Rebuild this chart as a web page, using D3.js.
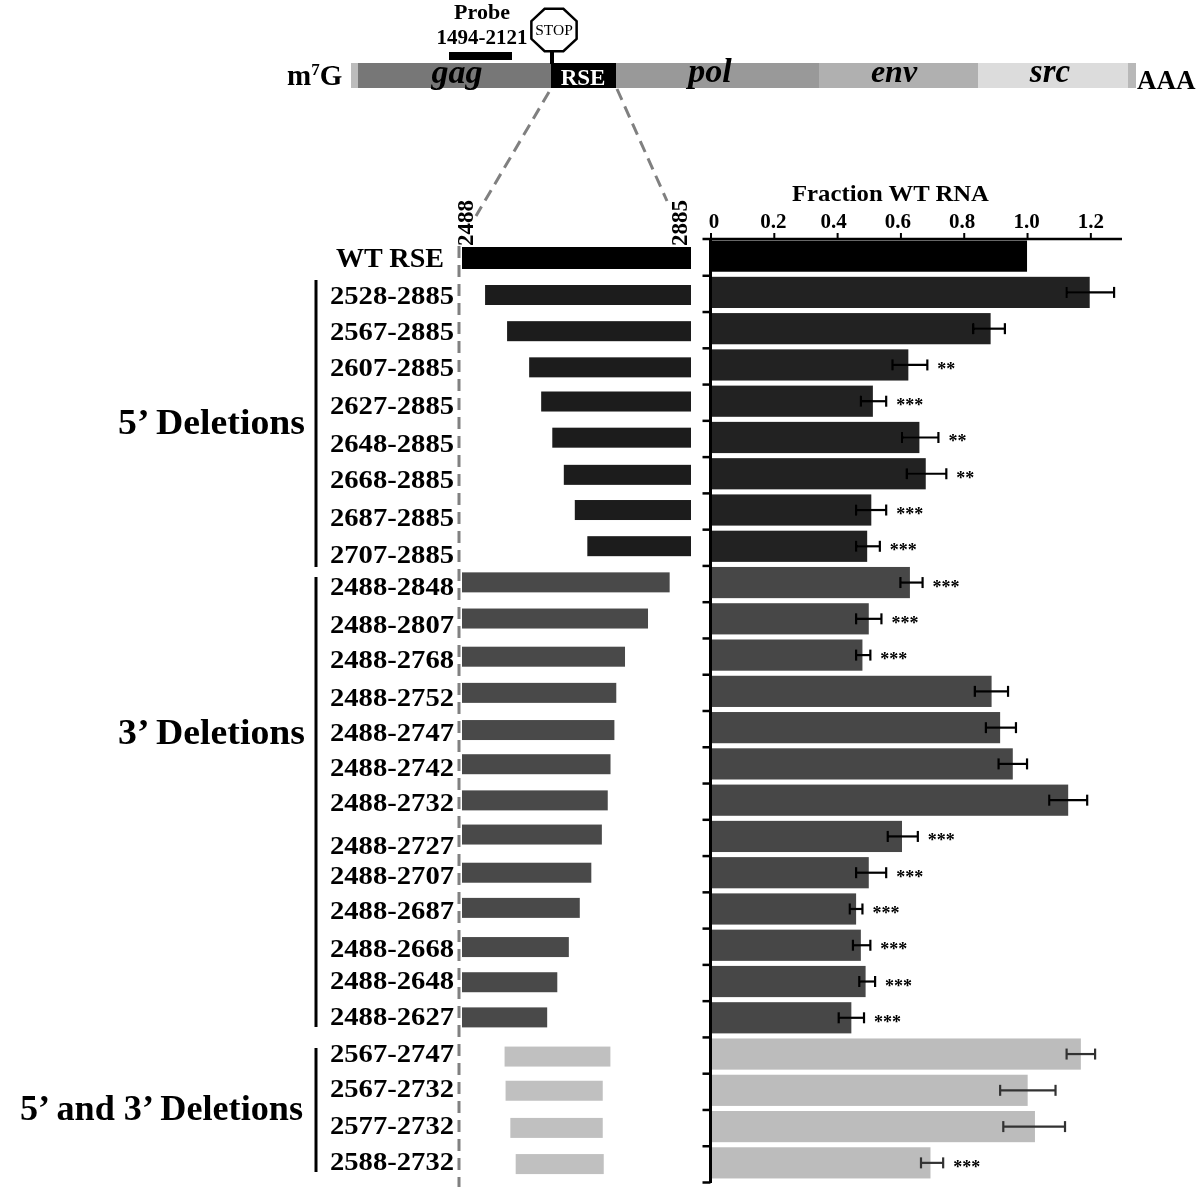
<!DOCTYPE html>
<html><head><meta charset="utf-8">
<script src="https://cdn.jsdelivr.net/npm/d3@7"></script>
<style>
html,body{margin:0;padding:0;background:#fff}
svg{display:block}
text{font-family:"Liberation Serif",serif;font-weight:bold;fill:#000}
</style></head><body>
<svg id="c" width="1200" height="1187"></svg>
<script>
// ---- data ----
const constructs=["WT RSE","2528-2885","2567-2885","2607-2885","2627-2885","2648-2885","2668-2885","2687-2885","2707-2885",
"2488-2848","2488-2807","2488-2768","2488-2752","2488-2747","2488-2742","2488-2732","2488-2727","2488-2707","2488-2687","2488-2668","2488-2648","2488-2627",
"2567-2747","2567-2732","2577-2732","2588-2732"];
const groups=["wt","d5","d5","d5","d5","d5","d5","d5","d5",
"d3","d3","d3","d3","d3","d3","d3","d3","d3","d3","d3","d3","d3",
"dd","dd","dd","dd"];
const fraction=[1,1.198,0.885,0.625,0.513,0.66,0.68,0.508,0.495,0.63,0.5,0.48,0.888,0.915,0.955,1.13,0.605,0.5,0.46,0.475,0.49,0.445,1.17,1.002,1.025,0.695];
const errLow=[null,1.125,0.83,0.575,0.475,0.605,0.62,0.46,0.46,0.6,0.46,0.46,0.835,0.87,0.91,1.07,0.56,0.46,0.44,0.45,0.47,0.405,1.125,0.915,0.925,0.665];
const errHigh=[null,1.275,0.93,0.685,0.555,0.72,0.745,0.555,0.535,0.67,0.54,0.505,0.94,0.965,1.0,1.19,0.655,0.555,0.48,0.505,0.52,0.485,1.215,1.09,1.12,0.735];
const stars=["","","","**","***","**","**","***","***","***","***","***","","","","","***","***","***","***","***","***","","","","***"];
const axisTicks=[0,0.2,0.4,0.6,0.8,1.0,1.2];
const axisLabels=["0","0.2","0.4","0.6","0.8","1.0","1.2"];
const genomeNames=["","gag","RSE","pol","env","src",""];
const genomeLengths=[7,193,65,203,159,150,8];
// small hand-layout corrections of the picture (px)
const labelNudge=[2,1,1,1,2,4,4,6,7,3,4,3,5,4,3,2,8,2,1,3,-1,-1,-1,-2,-1,-1];
const schemNudge=[1,0,0,0,-2,-2,-1,-2,-2,-2,-2,0,0,1,-1,-1,-3,-1,-2,1,0,-1,2,0,1,1];
const startNudge=[0,0,-0.5,-1.5,-1,-2,-2,-2,-1,0,0,0,0,0,0,0,0,0,0,0,0,0,-3,-2,-3,-4];
const endNudge=[0,0,0,0,0,0,0,0,0,0,2,1.5,2,3,2,5,2,3,3,3,3,5,-1,0,0,1];

// ---- scales ----
const svg=d3.select("#c");
const colors={wt:"#000",d5:"#242424",d3:"#474747",dd:"#bcbcbc"};
const schemColors={wt:"#000",d5:"#1c1c1c",d3:"#4a4a4a",dd:"#c0c0c0"};
const rows=d3.range(constructs.length);
const yBar=d3.scaleBand().domain(rows).range([238,1181]).paddingInner(0.14).paddingOuter(0.07);
const x=d3.scaleLinear().domain([0,1.3]).range([710.5,1122]);
const nt=d3.scaleLinear().domain([2488,2885]).range([462,691]);
const ySchem=i=>i===0?257:295+(i-1)*36.17;
const g=svg.append("g").attr("filter","url(#soft)");
svg.append("defs").append("filter").attr("id","soft").append("feGaussianBlur").attr("stdDeviation",0.45);

// ---- genome ----
const genomeX=d3.scaleLinear().domain([0,d3.sum(genomeLengths)]).range([351,1136]);
const genomeColors=["#bcbcbc","#777777","#000000","#999999","#b0b0b0","#dcdcdc","#b8b8b8"];
let acc=0;
const segs=genomeLengths.map((l,i)=>{const s={a:acc,b:acc+l,name:genomeNames[i],c:genomeColors[i]};acc+=l;return s;});
g.selectAll("rect.seg").data(segs).join("rect").attr("class","seg")
 .attr("x",d=>genomeX(d.a)).attr("width",d=>genomeX(d.b)-genomeX(d.a)).attr("y",63).attr("height",25).attr("fill",d=>d.c);
const segLabel={gag:[457,34,83],RSE:[583,23,85],pol:[710,34,82],env:[894,32,82],src:[1050,33,82]};
segs.filter(d=>d.name).forEach(d=>{
  const p=segLabel[d.name];
  g.append("text").attr("x",p[0]).attr("y",p[2]).attr("text-anchor","middle").attr("font-size",p[1])
   .attr("font-style",d.name==="RSE"?"normal":"italic").style("fill",d.name==="RSE"?"#fff":"#000").text(d.name);
});
const m7=g.append("text").attr("x",287).attr("y",85).attr("font-size",29);
m7.append("tspan").text("m");
m7.append("tspan").attr("font-size",17).attr("dy",-10).text("7");
m7.append("tspan").attr("dy",10).text("G");
g.append("text").attr("x",1137).attr("y",89).attr("font-size",27).text("AAA");
g.append("text").attr("x",482).attr("y",19).attr("text-anchor","middle").attr("font-size",22).text("Probe");
g.append("text").attr("x",482).attr("y",44).attr("text-anchor","middle").attr("font-size",21).text("1494-2121");
g.append("rect").attr("x",449).attr("y",52).attr("width",63).attr("height",8);
// stop sign
const oct=d3.range(8).map(i=>{const a=Math.PI/8+i*Math.PI/4;return [554+24.5*Math.cos(a),30+23*Math.sin(a)];});
g.append("line").attr("x1",552).attr("x2",552).attr("y1",50).attr("y2",64).attr("stroke","#000").attr("stroke-width",4);
g.append("polygon").attr("points",oct.join(" ")).attr("fill","#fff").attr("stroke","#000").attr("stroke-width",2.5);
g.append("text").attr("x",554).attr("y",35).attr("text-anchor","middle").attr("font-size",15.5).style("font-weight","normal").text("STOP");
// dashed guides
const dash=(x1,y1,x2,y2)=>g.append("line").attr("x1",x1).attr("y1",y1).attr("x2",x2).attr("y2",y2)
  .attr("stroke","#808080").attr("stroke-width",3).attr("stroke-dasharray","12 7");
dash(549,92,476,216);dash(617,89,667,201);dash(459,246,459,1187);
// end labels
[[2488,473],[2885,687]].forEach(d=>{
  g.append("text").attr("transform",`translate(${d[1]},246) rotate(-90)`).attr("font-size",23).text(d[0]);
});

// ---- schematic bars ----
const parseSpan=s=>s.split("-").map(Number);
const schemStart=i=>i===0?nt(2488):nt(parseSpan(constructs[i])[0])+startNudge[i];
const schemEnd=i=>i===0?nt(2885):nt(parseSpan(constructs[i])[1])+endNudge[i];
g.selectAll("rect.schem").data(rows).join("rect").attr("class","schem")
 .attr("x",schemStart)
 .attr("width",i=>schemEnd(i)-schemStart(i))
 .attr("y",i=>ySchem(i)+schemNudge[i]-(i===0?11:10))
 .attr("height",i=>i===0?22:20)
 .attr("fill",i=>schemColors[groups[i]]);
// construct labels
g.selectAll("text.lab").data(rows).join("text").attr("class","lab")
 .attr("x",i=>i===0?444:454).attr("text-anchor","end").attr("font-size",i=>i===0?27:25.5)
 .attr("textLength",i=>i===0?108:124).attr("lengthAdjust","spacingAndGlyphs")
 .attr("y",i=>ySchem(i)+labelNudge[i]+8).text(i=>constructs[i]);
// group labels + brackets
[["5’ Deletions",305,434,280,567,187],["3’ Deletions",305,744,577,1027,187],["5’ and 3’ Deletions",303,1120,1048,1172,283]].forEach(d=>{
  g.append("text").attr("x",d[1]).attr("y",d[2]).attr("text-anchor","end").attr("font-size",35)
   .attr("textLength",d[5]).attr("lengthAdjust","spacingAndGlyphs").text(d[0]);
  g.append("line").attr("x1",316).attr("x2",316).attr("y1",d[3]).attr("y2",d[4]).attr("stroke","#000").attr("stroke-width",3);
});

// ---- fraction bars ----
g.selectAll("rect.bar").data(rows).join("rect").attr("class","bar")
 .attr("x",x(0)).attr("y",i=>yBar(i)).attr("height",yBar.bandwidth())
 .attr("width",i=>x(fraction[i])-x(0)).attr("fill",i=>colors[groups[i]]);
const errRows=rows.filter(i=>errLow[i]!==null);
const yc=i=>yBar(i)+yBar.bandwidth()/2;
const err=g.selectAll("g.err").data(errRows).join("g").attr("class","err").attr("stroke",i=>groups[i]==="dd"?"#333":"#000").attr("stroke-width",2.2);
err.append("line").attr("x1",i=>x(errLow[i])).attr("x2",i=>x(errHigh[i])).attr("y1",yc).attr("y2",yc);
err.append("line").attr("x1",i=>x(errLow[i])).attr("x2",i=>x(errLow[i])).attr("y1",i=>yc(i)-5.5).attr("y2",i=>yc(i)+5.5);
err.append("line").attr("x1",i=>x(errHigh[i])).attr("x2",i=>x(errHigh[i])).attr("y1",i=>yc(i)-5.5).attr("y2",i=>yc(i)+5.5);
g.selectAll("text.star").data(errRows.filter(i=>stars[i])).join("text").attr("class","star")
 .attr("x",i=>x(errHigh[i])+10).attr("y",i=>yc(i)+10).attr("font-size",18).text(i=>stars[i]);

// ---- axes ----
const axTop=g.append("g").attr("transform","translate(0,239)")
 .call(d3.axisTop(x).tickValues(axisTicks).tickSize(6).tickPadding(5).tickFormat((d,i)=>axisLabels[i]));
axTop.select(".domain").attr("stroke-width",2.5).attr("d",`M${x(0)-8},0H${x(1.3)}`);
axTop.selectAll(".tick line").attr("stroke-width",2);
axTop.selectAll("text").attr("font-size",21).attr("font-family",null);
axTop.selectAll(".tick text").attr("dx",(d,i)=>i===0?3:[0,-1,-4,-3,-2,-1,0][i]);
const yAxis=d3.scaleLinear().domain([0,constructs.length]).range([239,1182]);
const axLeft=g.append("g").attr("transform",`translate(${x(0)},0)`)
 .call(d3.axisLeft(yAxis).tickValues(d3.range(1,constructs.length+1)).tickSize(8).tickFormat(""));
axLeft.select(".domain").attr("stroke-width",3).attr("d","M0,239V1183");
axLeft.selectAll(".tick line").attr("stroke-width",2.5);
g.append("text").attr("x",890.5).attr("y",201).attr("text-anchor","middle").attr("font-size",23).attr("textLength",197).attr("lengthAdjust","spacingAndGlyphs").text("Fraction WT RNA");
</script>
</body></html>
